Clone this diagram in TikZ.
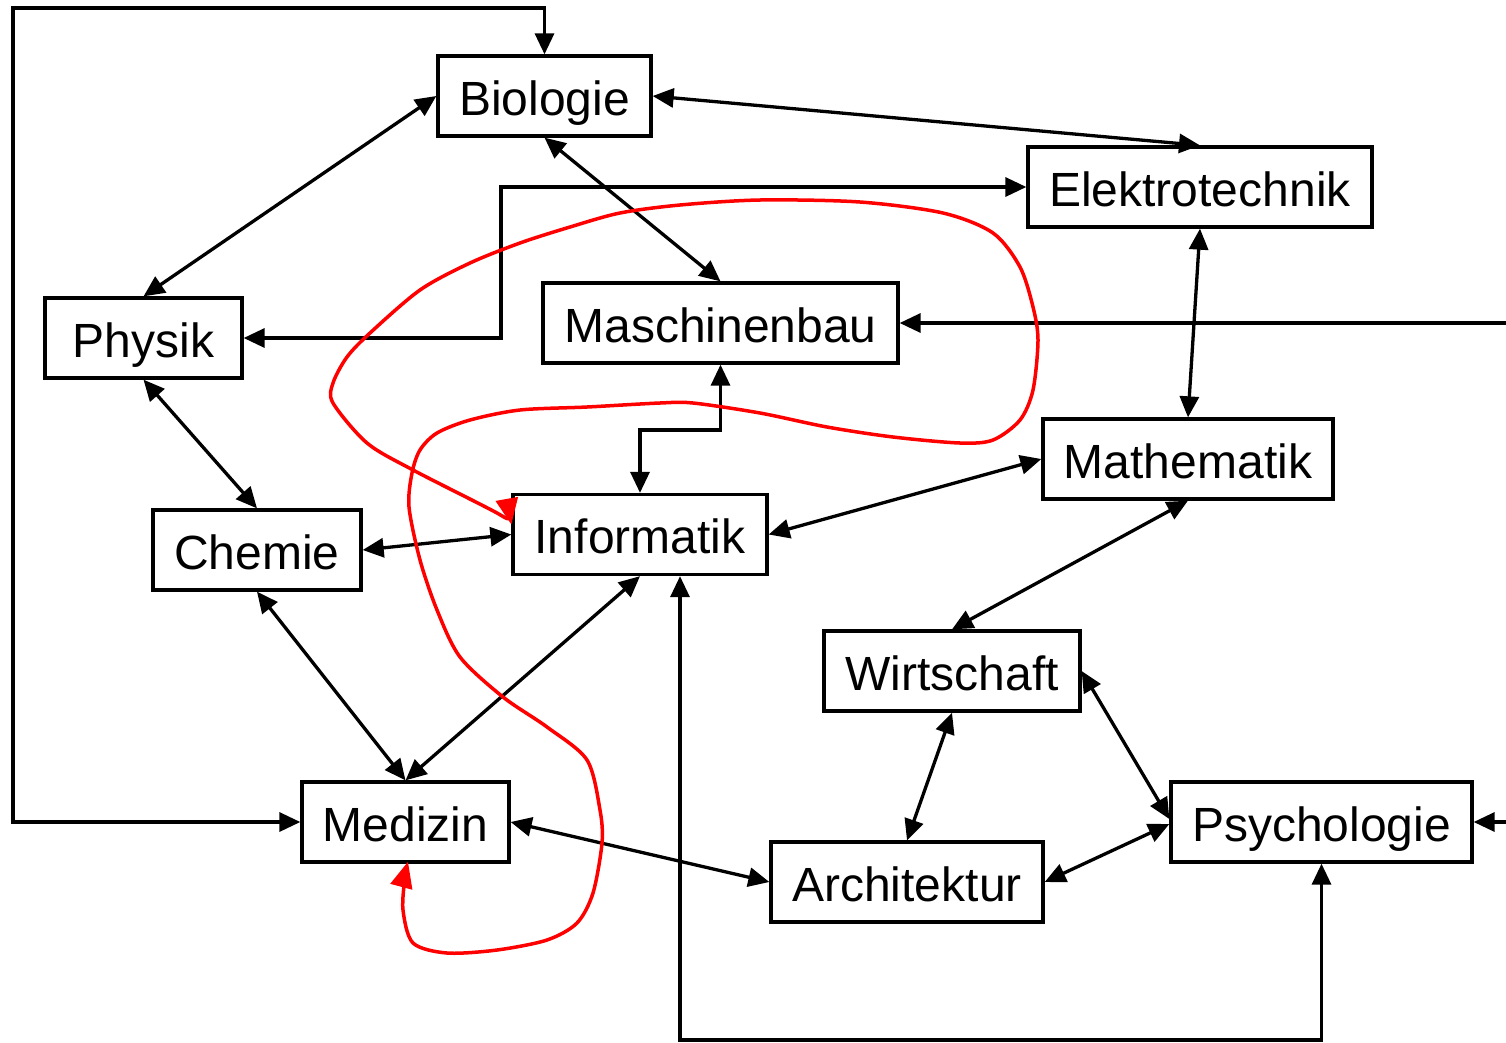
\documentclass[tikz,border=0pt]{standalone}
\usepackage{fontspec}
\setmainfont{Liberation Sans}
\usetikzlibrary{arrows.meta}
\begin{document}
\begin{tikzpicture}[x=1pt,y=-1pt,
  box/.style={draw,line width=3.3pt,inner sep=0pt,minimum height=80pt,
    text height=40pt,text depth=2pt,font=\fontsize{48}{56}\selectfont},
  tipb/.tip={Triangle[length=21pt,width=19pt]},
  tipr/.tip={Triangle[length=26pt,width=22pt]},
  conn/.style={line width=3.3pt,tipb-tipb},
  one/.style={line width=3.3pt,-tipb},
  redc/.style={red,line width=3.5pt,tipr-tipr}]
\useasboundingbox (0,0) rectangle (1506,1042);
% nodes
\node[box,minimum width=213pt] (bio)  at (544.5,96)  {Biologie};
\node[box,minimum width=344pt] (elek) at (1200,187)  {Elektrotechnik};
\node[box,minimum width=197pt] (phys) at (143.5,338) {Physik};
\node[box,minimum width=355pt] (masch) at (720.5,323) {Maschinenbau};
\node[box,minimum width=290pt] (math) at (1188,459)  {Mathematik};
\node[box,minimum width=208pt] (chem) at (257,550)   {Chemie};
\node[box,minimum width=254pt] (inf)  at (640,534.5) {Informatik};
\node[box,minimum width=256pt] (wirt) at (952,671)   {Wirtschaft};
\node[box,minimum width=207pt] (med)  at (405.5,822) {Medizin};
\node[box,minimum width=272pt] (arch) at (907,882)   {Architektur};
\node[box,minimum width=301pt] (psy)  at (1321.5,822) {Psychologie};
% helper coordinates
\coordinate (mR) at (1506,323);
\coordinate (pR) at (1506,822);
\coordinate (bot) at (1000,1040);
% connectors
\draw[conn] (med.west) -| (13,8) -| (bio.north);
\draw[conn] (bio.east) -- (elek.north);
\draw[conn] (bio.west) -- (phys.north);
\draw[conn] (bio.south) -- (masch.north);
\draw[conn] (phys.east) -| (501,300) |- (elek.west);
\draw[one] (mR) -- (masch.east);
\draw[one] (pR) -- (psy.east);
\draw[conn] (elek.south) -- (math.north);
\draw[conn] (masch.south) |- (680,430) -| (inf.north);
\draw[conn] (math.west) -- (inf.east);
\draw[conn] (phys.south) -- (chem.north);
\draw[conn] (chem.east) -- (inf.west);
\draw[conn] (chem.south) -- (med.north);
\draw[conn] (inf.south) -- (med.north);
\draw[conn] (math.south) -- (wirt.north);
\draw[conn] (wirt.south) -- (arch.north);
\draw[conn] (wirt.east) -- ([yshift=3pt]psy.west);
\draw[conn] (arch.east) -- ([yshift=-2pt]psy.west);
\draw[conn] (med.east) -- (arch.west);
\draw[conn] (psy.south) |- (bot) -| ([xshift=40pt]inf.south);
% red curve
\coordinate (r0) at ([xshift=2.5pt,yshift=2pt]med.south);
\coordinate (r1) at ([yshift=10pt]inf.west);
\draw[redc] plot[smooth] coordinates {(r0) (405,877) (403,910) (413,943) (447,953)
  (497,950) (547,940) (577,923) (593,893) (602,843) (600,810) (587,760) (547,727)
  (503,697) (460,657) (437,610) (420,560) (409,507) (412,473) (420,450) (437,433)
  (470,420) (520,410) (587,407) (660,403) (693,403) (760,413) (827,427) (893,437)
  (960,443) (993,440) (1020,420) (1033,390) (1038,340) (1033,307) (1020,267)
  (993,233) (943,213) (860,202) (760,200) (680,205) (620,213) (570,227) (520,243)
  (470,263) (420,290) (370,333) (347,357) (333,383) (333,403) (367,443) (413,470)
  (497,513) (r1)};
\end{tikzpicture}
\end{document}
